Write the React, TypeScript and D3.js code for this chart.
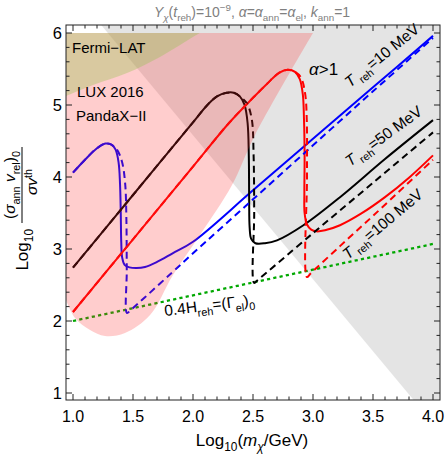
import React from 'react';
import * as d3 from 'd3';

// ---------- data ----------
const xTicksMajor = [1.0, 1.5, 2.0, 2.5, 3.0, 3.5, 4.0];
const yTicksMajor = [1, 2, 3, 4, 5, 6];

const blueSolid: [number, number][] = [
  [1.0, 4.06], [1.1, 4.24], [1.2, 4.4], [1.27, 4.465], [1.32, 4.45], [1.355, 4.38], [1.38, 4.2],
  [1.392, 3.9], [1.398, 3.5], [1.402, 3.1], [1.41, 2.88], [1.43, 2.78], [1.47, 2.745], [1.53, 2.735],
  [1.6, 2.75], [1.7, 2.82], [1.83, 2.94], [2.0, 3.1], [2.5, 3.815], [3.0, 4.53], [3.5, 5.245], [4.0, 5.96],
];
const blueDashed: [number, number][] = [
  [1.0, 4.06], [1.1, 4.24], [1.2, 4.4], [1.27, 4.465], [1.32, 4.45], [1.37, 4.37], [1.41, 4.2],
  [1.435, 3.9], [1.445, 3.4], [1.448, 2.7], [1.45, 2.11], [1.48, 2.15], [1.6, 2.33], [1.83, 2.68],
  [2.0, 2.94], [2.5, 3.69], [3.0, 4.44], [3.5, 5.19], [4.0, 5.93],
];
const blackSolid: [number, number][] = [
  [1.0, 2.74], [1.5, 3.75], [2.0, 4.76], [2.12, 5.0], [2.2, 5.12], [2.28, 5.17], [2.34, 5.17],
  [2.39, 5.12], [2.43, 5.0], [2.455, 4.75], [2.465, 4.3], [2.468, 3.7], [2.472, 3.3], [2.485, 3.14],
  [2.52, 3.08], [2.6, 3.08], [2.7, 3.12], [2.92, 3.33], [3.225, 3.72], [3.6, 4.25], [4.0, 4.79],
];
const blackDashed: [number, number][] = [
  [1.0, 2.74], [1.5, 3.75], [2.0, 4.76], [2.12, 5.0], [2.2, 5.12], [2.28, 5.17], [2.34, 5.17],
  [2.39, 5.12], [2.45, 5.02], [2.49, 4.8], [2.505, 4.3], [2.51, 3.5], [2.51, 2.53], [2.54, 2.57],
  [3.0, 3.22], [3.5, 3.92], [4.0, 4.62],
];
const redSolid: [number, number][] = [
  [1.0, 2.125], [1.5, 3.135], [2.0, 4.145], [2.3, 4.75], [2.5, 5.1], [2.62, 5.3], [2.72, 5.45],
  [2.79, 5.49], [2.85, 5.46], [2.89, 5.36], [2.915, 5.15], [2.925, 4.8], [2.93, 4.3], [2.928, 3.8],
  [2.93, 3.5], [2.95, 3.34], [2.985, 3.27], [3.03, 3.245], [3.1, 3.26], [3.225, 3.33], [3.4, 3.49],
  [3.6, 3.72], [3.8, 3.99], [4.0, 4.3],
];
const redDashed: [number, number][] = [
  [1.0, 2.125], [1.5, 3.135], [2.0, 4.145], [2.3, 4.75], [2.5, 5.1], [2.62, 5.3], [2.72, 5.45],
  [2.79, 5.49], [2.85, 5.46], [2.9, 5.38], [2.935, 5.15], [2.948, 4.8], [2.95, 4.0], [2.95, 2.61],
  [2.98, 2.66], [3.225, 3.04], [3.5, 3.46], [4.0, 4.24],
];
const greenDotted: [number, number][] = [[1.0, 2.0], [4.0, 3.07]];

// exclusion regions
const fermiEdge: [number, number][] = [
  [0.942, 5.125], [1.167, 5.278], [1.45, 5.444], [1.725, 5.667], [2.0, 5.944], [2.058, 6.0],
];
const pinkEdge: [number, number][] = [
  [3.0, 6.0], [2.517, 4.583], [2.325, 3.889], [2.058, 3.194], [1.833, 2.639], [1.642, 2.083],
  [1.433, 1.833], [1.267, 1.792], [1.142, 1.875], [1.017, 2.042], [0.942, 2.292],
];
const alphaEdge: [number, number][] = [[1.235, 6.11], [3.84, 0.9]];

// ---------- layout ----------
const W = 447, H = 462;
const FL = 66, FR = 440, FT = 25, FB = 400;
const x = d3.scaleLinear().domain([1, 4]).range([73, 433]);
const y = d3.scaleLinear().domain([1, 6]).range([393, 33]);
const xMin = x.invert(FL), xMax = x.invert(FR), yMin = y.invert(FB), yMax = y.invert(FT);

const FONT = 'Liberation Sans, Arial, sans-serif';

type Seg = { t: string; it?: boolean; sub?: boolean; sup?: boolean };
function rich(segs: Seg[], size: number, supShift = 0.42) {
  let cur = 0;
  return segs.map((s, i) => {
    const target = s.sub ? size * 0.3 : s.sup ? -size * supShift : 0;
    const dy = target - cur;
    cur = target;
    return (
      <tspan key={i} dy={dy} fontStyle={s.it ? 'italic' : 'normal'} fontSize={s.sub || s.sup ? size * 0.7 : size}>
        {s.t}
      </tspan>
    );
  });
}

const line = d3.line<[number, number]>().x(d => x(d[0])).y(d => y(d[1])).curve(d3.curveCatmullRom.alpha(0.5));
const lin = d3.line<[number, number]>().x(d => x(d[0])).y(d => y(d[1]));

export default function App() {
  const grayPoly: [number, number][] = [alphaEdge[0], [xMax, yMax], [xMax, yMin], alphaEdge[1]];
  const pinkPath = 'M' + x(xMin) + ',' + y(6) + 'L' + x(3.0) + ',' + y(6) +
    (line(pinkEdge) as string).replace(/^M[^CL]*/, 'L' + x(pinkEdge[0][0]) + ',' + y(pinkEdge[0][1])) +
    'L' + x(xMin) + ',' + y(pinkEdge[pinkEdge.length - 1][1]) + 'Z';
  const fermiPath = (line(fermiEdge) as string) + 'L' + x(xMin) + ',' + y(6) + 'L' + x(xMin) + ',' + y(fermiEdge[0][1]) + 'Z';

  const xMinor = d3.range(10, 41).map(v => v / 10);
  const yMinor = d3.range(5, 31).map(v => v / 5);

  const tSize = 15.5;
  return (
    <svg width={W} height={H} style={{ position: 'absolute', left: 0, top: 0, background: '#fff' }} fontFamily={FONT}>
      <defs>
        <clipPath id="plot"><rect x={FL} y={FT} width={FR - FL} height={FB - FT} /></clipPath>
      </defs>
      <g clipPath="url(#plot)">
        <path d={lin(grayPoly) as string} fill="#e4e4e4" />
        {/* curves */}
        <path d={lin(greenDotted) as string} fill="none" stroke="#00a800" strokeWidth={2.3} strokeDasharray="3.2,3.2" />
        <path d={line(blueSolid) as string} fill="none" stroke="#0000ff" strokeWidth={2} />
        <path d={line(blackSolid) as string} fill="none" stroke="#000" strokeWidth={2} />
        <path d={line(redSolid) as string} fill="none" stroke="#ff0000" strokeWidth={2} />
        <path d={line(blueDashed) as string} fill="none" stroke="#0000ff" strokeWidth={2} strokeDasharray="7,4.5" />
        <path d={line(blackDashed) as string} fill="none" stroke="#000" strokeWidth={2} strokeDasharray="7,4.5" />
        <path d={line(redDashed) as string} fill="none" stroke="#ff0000" strokeWidth={2} strokeDasharray="7,4.5" />
        {/* overlays */}
        <path d={pinkPath} fill="rgb(255,43,43)" fillOpacity={0.235} />
        <path d={fermiPath} fill="rgb(150,195,80)" fillOpacity={0.36} />
      </g>

      {/* in-plot labels */}
      <text x={72} y={53} fontSize={15}>Fermi−LAT</text>
      <text x={77} y={97} fontSize={15}>LUX 2016</text>
      <text x={76} y={121} fontSize={15}>PandaX−II</text>
      <text x={309} y={75} fontSize={17}>
        <tspan fontStyle="italic">α</tspan>
        <tspan>&gt;1</tspan>
      </text>
      <text transform="translate(350,88) rotate(-39)" fontSize={tSize}>
        {rich([{ t: 'T', it: true }, { t: ' reh', sub: true }, { t: '=10 MeV' }], tSize)}
      </text>
      <text transform="translate(350,167) rotate(-36)" fontSize={tSize}>
        {rich([{ t: 'T', it: true }, { t: ' reh', sub: true }, { t: '=50 MeV' }], tSize)}
      </text>
      <text transform="translate(348,260) rotate(-40)" fontSize={tSize}>
        {rich([{ t: 'T', it: true }, { t: ' reh', sub: true }, { t: '=100 MeV' }], tSize)}
      </text>
      <text transform="translate(165,316) rotate(-7)" fontSize={tSize}>
        {rich([{ t: '0.4H' }, { t: 'reh', sub: true }, { t: '=(Γ' }, { t: 'el', sub: true }, { t: ')' }, { t: '0', sub: true }], tSize)}
      </text>

      {/* frame */}
      <rect x={FL} y={FT} width={FR - FL} height={FB - FT} fill="none" stroke="#222" strokeWidth={1} />
      {xMinor.map((v, i) => {
        const major = Math.abs(v * 2 - Math.round(v * 2)) < 1e-6;
        const L = major ? 6 : 3.5;
        return (
          <g key={'xt' + i} stroke="#222" strokeWidth={1}>
            <line x1={x(v)} x2={x(v)} y1={FB} y2={FB - L} />
            <line x1={x(v)} x2={x(v)} y1={FT} y2={FT + L} />
          </g>
        );
      })}
      {yMinor.map((v, i) => {
        const major = Math.abs(v - Math.round(v)) < 1e-6;
        const L = major ? 6 : 3.5;
        return (
          <g key={'yt' + i} stroke="#222" strokeWidth={1}>
            <line x1={FL} x2={FL + L} y1={y(v)} y2={y(v)} />
            <line x1={FR} x2={FR - L} y1={y(v)} y2={y(v)} />
          </g>
        );
      })}
      {xTicksMajor.map(v => (
        <text key={'xl' + v} x={x(v)} y={422} fontSize={16} textAnchor="middle">{v.toFixed(1)}</text>
      ))}
      {yTicksMajor.map(v => (
        <text key={'yl' + v} x={62} y={y(v) + 5.5} fontSize={16.5} textAnchor="end">{v}</text>
      ))}

      {/* axis labels */}
      <text x={252} y={446} fontSize={17} textAnchor="middle">
        {rich([{ t: 'Log' }, { t: '10', sub: true }, { t: '(' }, { t: 'm', it: true }, { t: 'χ', it: true, sub: true }, { t: '/GeV)' }], 17)}
      </text>
      <g transform="translate(22,215) rotate(-90)">
        <text x={-14} y={6} fontSize={17} textAnchor="end">
          {rich([{ t: 'Log' }, { t: '10', sub: true }], 17)}
        </text>
        <line x1={-8} x2={68} y1={0} y2={0} stroke="#000" strokeWidth={1} />
        <text x={30} y={-7} fontSize={15.5} textAnchor="middle">
          {rich([{ t: '(' }, { t: 'σ', it: true }, { t: 'ann', sub: true }, { t: ' v', it: true }, { t: 'rel', sub: true }, { t: ')' }, { t: '0', sub: true }], 15.5)}
        </text>
        <text x={33} y={15} fontSize={15.5} textAnchor="middle">
          {rich([{ t: 'σ', it: true }, { t: 'v', it: true }, { t: 'th', sup: true }], 15.5, 0.35)}
        </text>
      </g>

      {/* title */}
      <text x={252} y={17} fontSize={14} textAnchor="middle" fill="#808080">
        {rich([
          { t: 'Y', it: true }, { t: 'χ', it: true, sub: true }, { t: '(' }, { t: 't', it: true }, { t: 'reh', sub: true },
          { t: ')=10' }, { t: '−9', sup: true }, { t: ', ' }, { t: 'α', it: true }, { t: '=' }, { t: 'α', it: true },
          { t: 'ann', sub: true }, { t: '=' }, { t: 'α', it: true }, { t: 'el', sub: true }, { t: ', ' },
          { t: 'k', it: true }, { t: 'ann', sub: true }, { t: '=1' },
        ], 14)}
      </text>
    </svg>
  );
}
